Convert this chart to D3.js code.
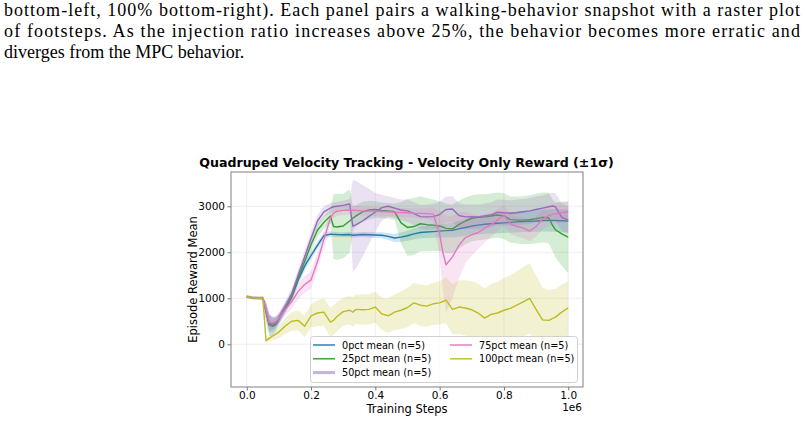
<!DOCTYPE html>
<html>
<head>
<meta charset="utf-8">
<script src="https://cdn.jsdelivr.net/npm/d3@7"></script>
<style>
body { margin: 0; background: #fff; }
svg text { font-family: "DejaVu Sans", sans-serif; fill: #000; }
.caption text { font-family: "Liberation Serif", "Times New Roman", serif; font-size: 18px; }
</style>
</head>
<body>
<svg width="805" height="421"></svg>
<script>
// training steps (x1e6), shared by every run
const steps = [0, 0.02, 0.04, 0.05, 0.06, 0.07, 0.08, 0.09, 0.10,
    0.12, 0.14, 0.16, 0.18, 0.20, 0.22, 0.24, 0.26,
    0.27, 0.28, 0.30, 0.32, 0.33, 0.34,
    0.36, 0.38, 0.40, 0.42, 0.44, 0.46, 0.48, 0.50, 0.52, 0.54, 0.56, 0.58, 0.60,
    0.61, 0.62,
    0.64, 0.66, 0.68, 0.70, 0.72, 0.74, 0.76, 0.78, 0.80, 0.82, 0.84, 0.86, 0.88, 0.90, 0.92, 0.94,
    0.95, 0.96, 0.98, 1.00]

const mean_0 = [1030, 1010, 1005, 1000, 700, 420, 390, 430, 540,
    780, 1020, 1400, 1700, 1930, 2150, 2360, 2395,
    2390, 2385, 2380, 2385, 2370, 2375,
    2385, 2380, 2375, 2370, 2345, 2310, 2330, 2360, 2400, 2430, 2440, 2450, 2460,
    2465, 2470,
    2480, 2510, 2540, 2570, 2590, 2610, 2620, 2630, 2640, 2650, 2660, 2670, 2675, 2680, 2690, 2690,
    2690, 2690, 2685, 2680]
const sd_0 = [30, 30, 30, 40, 200, 250, 200, 150, 120,
    100, 100, 100, 100, 90, 80, 70, 60,
    55, 55, 55, 55, 55, 55,
    55, 60, 60, 65, 75, 90, 100, 110, 120, 125, 130, 135, 140,
    145, 150,
    160, 170, 180, 190, 200, 205, 210, 215, 220, 225, 225, 230, 230, 235, 240, 240,
    245, 245, 250, 250]

const mean_25 = [1030, 1010, 1005, 1000, 720, 440, 410, 450, 560,
    800, 1050, 1450, 1800, 2170, 2480, 2650, 2790,
    2560, 2550, 2570, 2680, 2740, 2790,
    2880, 2920, 2930, 2910, 2900, 2880, 2640, 2540, 2560, 2620, 2600, 2590, 2570,
    2550, 2520,
    2510, 2600, 2680, 2740, 2760, 2770, 2790, 2810, 2790, 2710, 2700, 2700, 2710, 2730, 2760, 2745,
    2600, 2490, 2400, 2330]
const sd_25 = [30, 30, 30, 40, 180, 200, 150, 120, 100,
    100, 110, 120, 130, 140, 140, 140, 150,
    700, 720, 700, 690, 260, 230,
    220, 200, 180, 170, 170, 180, 450, 620, 620, 600, 580, 560, 540,
    540, 540,
    530, 520, 510, 500, 500, 490, 490, 490, 500, 500, 510, 520, 530, 540, 540, 550,
    560, 600, 700, 780]

const mean_50 = [1040, 1010, 1005, 1000, 740, 470, 450, 480, 580,
    830, 1100, 1500, 1900, 2300, 2680, 2880, 2960,
    2990, 3000, 3020, 3050, 2570, 2600,
    2680, 2780, 2870, 2970, 3000, 2960, 2920, 2900, 2840, 2775, 2770, 2775, 2820,
    2880, 2930,
    2940, 2800, 2770, 2775, 2770, 2790, 2810, 2870, 2860, 2850, 2860, 2880, 2900, 2930, 2960, 2990,
    3005, 2990, 2760, 2700]
const sd_50 = [30, 30, 30, 40, 180, 180, 150, 130, 110,
    110, 120, 130, 140, 140, 130, 120, 110,
    100, 100, 100, 110, 1000, 950,
    780, 600, 420, 280, 220, 220, 230, 240, 250, 260, 270, 280, 280,
    280, 280,
    280, 270, 270, 270, 270, 270, 270, 280, 280, 280, 280, 280, 280, 280, 280, 290,
    290, 300, 300, 300]

const mean_75 = [1030, 1010, 1005, 1000, 760, 480, 470, 490, 560,
    760, 930, 1150, 1300, 1400, 1800, 2280, 2740,
    2850, 2890, 2910, 2920, 2915, 2910,
    2900, 2895, 2890, 2885, 2880, 2870, 2865, 2860, 2850, 2845, 2840, 2830, 2400,
    2000, 1730,
    1900, 2150, 2320, 2380, 2430, 2520, 2600, 2700, 2800, 2620, 2560, 2530, 2460, 2560, 2720, 2800,
    2820, 2840, 2860, 2880]
const sd_75 = [30, 30, 30, 40, 150, 150, 130, 120, 110,
    130, 150, 170, 180, 190, 190, 170, 130,
    110, 100, 100, 100, 100, 100,
    100, 100, 100, 100, 100, 100, 100, 100, 100, 110, 120, 150, 500,
    850, 1050,
    900, 720, 560, 450, 360, 300, 260, 240, 230, 220, 220, 220, 220, 220, 220, 220,
    220, 220, 220, 220]

const mean_100 = [1040, 1010, 1005, 1000, 80, 130, 180, 220, 270,
    400, 500, 520, 390, 620, 680, 700, 480,
    520, 600, 710, 740, 700, 760,
    750, 760, 810, 660, 620, 700, 740, 800, 900, 850, 830, 880, 900,
    930, 960,
    760, 810, 790, 750, 680, 570, 650, 680, 740, 780, 850, 920, 1000, 760, 530, 520,
    560, 590, 700, 790]
const sd_100 = [30, 30, 30, 40, 40, 60, 90, 110, 140,
    170, 200, 220, 230, 250, 280, 300, 320,
    320, 320, 300, 310, 320, 320,
    330, 330, 340, 350, 370, 390, 410, 430, 440, 450, 450, 460, 470,
    480, 500,
    540, 580, 600, 620, 640, 650, 660, 680, 700, 720, 740, 760, 760, 740, 700, 660,
    640, 620, 600, 580]

const x_ticks = [0, 0.2, 0.4, 0.6, 0.8, 1.0]
const y_ticks = [0, 1000, 2000, 3000]

const caption_lines = [
    "bottom-left, 100% bottom-right). Each panel pairs a walking-behavior snapshot with a raster plot",
    "of footsteps.  As the injection ratio increases above 25%, the behavior becomes more erratic and",
    "diverges from the MPC behavior."
]

const series = [
    {label: "0pct mean (n=5)", color: "#1f77b4", mean: mean_0, sd: sd_0},
    {label: "25pct mean (n=5)", color: "#2ca02c", mean: mean_25, sd: sd_25},
    {label: "50pct mean (n=5)", color: "#9467bd", mean: mean_50, sd: sd_50},
    {label: "75pct mean (n=5)", color: "#e377c2", mean: mean_75, sd: sd_75},
    {label: "100pct mean (n=5)", color: "#bcbd22", mean: mean_100, sd: sd_100},
]

const svg = d3.select("svg")
svg.append("rect").attr("width", 805).attr("height", 421).attr("fill", "#fff")

// paper caption above the figure
const cap = svg.append("g").attr("class", "caption")
caption_lines.forEach((line, i) => {
    const t = cap.append("text")
        .attr("x", 4)
        .attr("y", 16 + i * 21)
        .text(line)
    if (i < 2) t.attr("textLength", 796).attr("lengthAdjust", "spacing")
})

const box = {left: 231, right: 583, top: 172, bottom: 387}
const x = d3.scaleLinear().domain([-0.049, 1.046]).range([box.left, box.right])
const y = d3.scaleLinear().domain([-928, 3745]).range([box.bottom, box.top])

svg.append("clipPath").attr("id", "plot-clip")
    .append("rect")
    .attr("x", box.left).attr("y", box.top)
    .attr("width", box.right - box.left).attr("height", box.bottom - box.top)

// grid
const grid = svg.append("g").attr("class", "grid")
grid.selectAll("line.gx").data(x_ticks).join("line")
    .attr("x1", d => x(d)).attr("x2", d => x(d))
    .attr("y1", box.top).attr("y2", box.bottom)
    .attr("stroke", "#ebebeb").attr("stroke-width", 0.8)
grid.selectAll("line.gy").data(y_ticks).join("line")
    .attr("class", "gy")
    .attr("x1", box.left).attr("x2", box.right)
    .attr("y1", d => y(d)).attr("y2", d => y(d))
    .attr("stroke", "#ebebeb").attr("stroke-width", 0.8)

const plot = svg.append("g").attr("clip-path", "url(#plot-clip)")

const area = d3.area()
    .x((d, i) => x(steps[i]))
    .y0(d => y(d[0] - d[1]))
    .y1(d => y(d[0] + d[1]))

const line = d3.line()
    .x((d, i) => x(steps[i]))
    .y(d => y(d))

series.forEach(s => {
    plot.append("path")
        .datum(s.mean.map((m, i) => [m, s.sd[i]]))
        .attr("d", area)
        .attr("fill", s.color)
        .attr("fill-opacity", 0.2)
    plot.append("path")
        .datum(s.mean)
        .attr("d", line)
        .attr("fill", "none")
        .attr("stroke", s.color)
        .attr("stroke-width", 1.4)
        .attr("stroke-linejoin", "round")
})

// axes
const x_axis = svg.append("g")
    .attr("transform", `translate(0,${box.bottom})`)
    .call(d3.axisBottom(x).tickValues(x_ticks).tickFormat(d3.format(".1f")).tickSize(3.5).tickPadding(1.5))
const y_axis = svg.append("g")
    .attr("transform", `translate(${box.left},0)`)
    .call(d3.axisLeft(y).tickValues(y_ticks).tickFormat(d3.format("d")).tickSize(3.5).tickPadding(2.5))

;[x_axis, y_axis].forEach(a => {
    a.select(".domain").remove()
    a.selectAll(".tick line").attr("stroke", "#555").attr("stroke-width", 0.8)
    a.selectAll(".tick text").attr("font-size", 10.5).attr("font-family", "DejaVu Sans").attr("fill", "#000")
})

svg.append("rect")
    .attr("x", box.left).attr("y", box.top)
    .attr("width", box.right - box.left).attr("height", box.bottom - box.top)
    .attr("fill", "none").attr("stroke", "#808080").attr("stroke-width", 1)

svg.append("text")
    .attr("x", (box.left + box.right) / 2).attr("y", 412.5)
    .attr("text-anchor", "middle").attr("font-size", 11.5)
    .text("Training Steps")

svg.append("text")
    .attr("x", box.right - 1).attr("y", 411)
    .attr("text-anchor", "end").attr("font-size", 10.5)
    .text("1e6")

svg.append("text")
    .attr("transform", `translate(197,${(box.top + box.bottom) / 2}) rotate(-90)`)
    .attr("text-anchor", "middle").attr("font-size", 11.5)
    .text("Episode Reward Mean")

svg.append("text")
    .attr("x", (box.left + box.right) / 2 - 0.5).attr("y", 167)
    .attr("text-anchor", "middle").attr("font-size", 12.6).attr("font-weight", "bold")
    .text("Quadruped Velocity Tracking - Velocity Only Reward (\u00b11\u03c3)")

// legend, two columns
const legend = svg.append("g")
legend.append("rect")
    .attr("x", 310.5).attr("y", 336.5).attr("width", 267).attr("height", 46)
    .attr("rx", 3)
    .attr("fill", "#fff").attr("fill-opacity", 0.8)
    .attr("stroke", "#d0d0d0").attr("stroke-width", 1)

series.forEach((s, i) => {
    const col = i < 3 ? 0 : 1
    const row = i < 3 ? i : i - 3
    const lx = col === 0 ? 313 : 450
    const ly = 345 + row * 13.8
    const g = legend.append("g")
    const wide = s.label.startsWith("50pct")
    g.append("line")
        .attr("x1", lx).attr("x2", lx + 22)
        .attr("y1", ly).attr("y2", ly)
        .attr("stroke", wide ? "#c5b3dd" : s.color)
        .attr("stroke-width", wide ? 3 : 1.4)
    g.append("text")
        .attr("x", lx + 29).attr("y", ly + 3.5)
        .attr("font-size", 9.7)
        .text(s.label)
})
</script>
</body>
</html>
